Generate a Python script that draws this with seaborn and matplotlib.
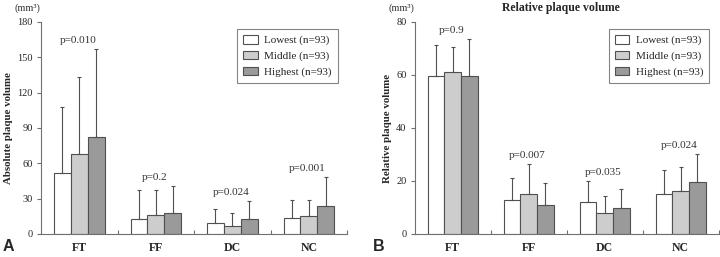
import seaborn as sns
import matplotlib.pyplot as plt
import pandas as pd

categories = ['FT', 'FF', 'DC', 'NC']
groups = ['Lowest (n=93)', 'Middle (n=93)', 'Highest (n=93)']

# panel A: absolute plaque volume (mean, upper SD)
abs_lowest = [52, 12.5, 9, 13.4]
abs_middle = [68, 16.5, 6.5, 15]
abs_highest = [82, 17.7, 12.5, 23.7]
abs_sd_lowest = [56, 24.5, 12.6, 15.6]
abs_sd_middle = [65, 20.5, 11.2, 14]
abs_sd_highest = [75, 23.3, 15.1, 24.3]
abs_p = ['p=0.010', 'p=0.2', 'p=0.024', 'p=0.001']

# panel B: relative plaque volume
rel_lowest = [59.7, 12.8, 12.1, 15.1]
rel_middle = [61, 15.1, 7.9, 16.1]
rel_highest = [59.7, 10.9, 9.9, 19.7]
rel_sd_lowest = [11.7, 8.4, 7.8, 9.0]
rel_sd_middle = [9.5, 11.4, 6.5, 9.3]
rel_sd_highest = [13.9, 8.3, 7.2, 10.5]
rel_p = ['p=0.9', 'p=0.007', 'p=0.035', 'p=0.024']

sns.set_style('white')
plt.rcParams['font.family'] = ['Liberation Serif', 'DejaVu Serif']

colors = ['#ffffff', '#cdcdcd', '#9a9a9a']
edge = '#505050'
axcol = '#707070'


def make_df(means):
    rows = []
    for g, vals in zip(groups, means):
        for c, v in zip(categories, vals):
            rows.append({'cat': c, 'group': g, 'value': v})
    return pd.DataFrame(rows)


def draw(ax, means, sds, pvals, ymax, yticks, ylabel):
    df = make_df(means)
    sns.barplot(data=df, x='cat', y='value', hue='group', palette=colors,
                edgecolor=edge, linewidth=0.8, width=0.66, gap=0,
                errorbar=None, saturation=1, ax=ax)
    tops = [0] * len(categories)
    for cont, sd in zip(ax.containers, sds):
        xs = [b.get_x() + b.get_width() / 2 for b in cont]
        hs = [b.get_height() for b in cont]
        ax.errorbar(xs, hs, yerr=[[0] * len(sd), sd], fmt='none',
                    ecolor=edge, elinewidth=0.8, capsize=1.5, capthick=0.8,
                    zorder=1)
        for i, (h, s) in enumerate(zip(hs, sd)):
            tops[i] = max(tops[i], h + s)
    for i, p in enumerate(pvals):
        ax.annotate(p, (i - 0.02, tops[i]), xytext=(0, 3),
                    textcoords='offset points', ha='center', va='bottom',
                    fontsize=8, color='#333333')
    ax.set_xlim(-0.5, 3.5)
    ax.set_ylim(0, ymax)
    ax.set_yticks(yticks)
    ax.set_xticks([0.5, 1.5, 2.5, 3.5], minor=True)
    ax.tick_params(axis='x', which='major', length=0, labelsize=8.5, pad=6)
    ax.tick_params(axis='x', which='minor', direction='in', length=3,
                   color=axcol, width=0.8, bottom=True)
    ax.tick_params(axis='y', direction='out', length=3, color=axcol,
                   width=0.8, labelsize=7.5, left=True, pad=3)
    for lab in ax.get_xticklabels():
        lab.set_fontweight('bold')
    sns.despine(ax=ax)
    for s in ['left', 'bottom']:
        ax.spines[s].set_color(axcol)
        ax.spines[s].set_linewidth(0.8)
    ax.set_xlabel('')
    ax.set_ylabel(ylabel, fontsize=7.8, fontweight='bold', labelpad=3)
    ax.text(-0.045, 1.065, '(mm³)', transform=ax.transAxes, ha='center',
            va='center', fontsize=7.5, color='#333333')
    handles, labels = ax.get_legend_handles_labels()
    leg = ax.legend(handles, labels, loc='upper right',
                    bbox_to_anchor=(0.97, 0.967), borderaxespad=0,
                    fontsize=8, frameon=True, fancybox=False,
                    edgecolor='#666666', handlelength=1.3, handleheight=0.8,
                    labelspacing=0.5, borderpad=0.55, handletextpad=0.6)
    leg.get_frame().set_linewidth(0.8)


fig = plt.figure(figsize=(7.2, 2.57), dpi=100)
axA = fig.add_axes([0.057, 0.0895, 0.425, 0.825])
axB = fig.add_axes([0.576, 0.0895, 0.422, 0.825])

draw(axA, [abs_lowest, abs_middle, abs_highest],
     [abs_sd_lowest, abs_sd_middle, abs_sd_highest], abs_p,
     180, [0, 30, 60, 90, 120, 150, 180], 'Absolute plaque volume')
draw(axB, [rel_lowest, rel_middle, rel_highest],
     [rel_sd_lowest, rel_sd_middle, rel_sd_highest], rel_p,
     80, [0, 20, 40, 60, 80], 'Relative plaque volume')
axB.text(0.48, 1.065, 'Relative plaque volume', transform=axB.transAxes,
         ha='center', va='center', fontsize=8.5, fontweight='bold')

fig.text(0.003, 0.025, 'A', fontsize=11.5, fontweight='bold',
         family='Liberation Sans')
fig.text(0.518, 0.025, 'B', fontsize=11.5, fontweight='bold',
         family='Liberation Sans')

fig.savefig('out.png', dpi=100)
